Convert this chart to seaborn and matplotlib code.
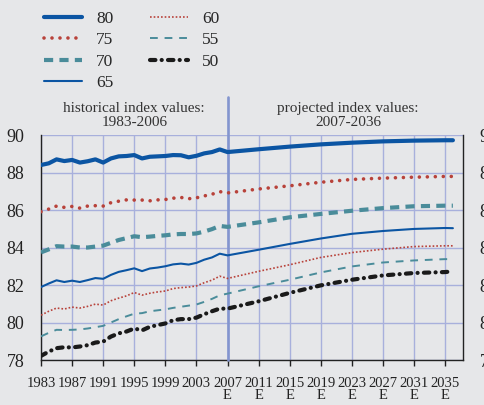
import numpy as np
import pandas as pd
import matplotlib
matplotlib.use('Agg')
import matplotlib.pyplot as plt
import seaborn as sns

# years: every year for the historical part, every 4 years for the projection
years = list(range(1983, 2008)) + [2011, 2015, 2019, 2023, 2027, 2031, 2035, 2036]

idx80 = [88.40, 88.49, 88.70, 88.61, 88.67, 88.53, 88.60, 88.70, 88.53, 88.75, 88.86, 88.88,
         88.93, 88.75, 88.84, 88.86, 88.88, 88.93, 88.92, 88.81, 88.89, 89.02, 89.09, 89.23, 89.09,
         89.24, 89.38, 89.50, 89.59, 89.66, 89.70, 89.72, 89.72]
idx75 = [85.91, 86.05, 86.21, 86.14, 86.19, 86.10, 86.21, 86.23, 86.21, 86.39, 86.47, 86.54,
         86.53, 86.53, 86.49, 86.54, 86.56, 86.63, 86.67, 86.60, 86.65, 86.75, 86.84, 86.98, 86.91,
         87.12, 87.29, 87.48, 87.63, 87.70, 87.75, 87.79, 87.79]
idx70 = [83.74, 83.90, 84.07, 84.05, 84.05, 84.00, 84.00, 84.05, 84.10, 84.25, 84.40, 84.50,
         84.60, 84.55, 84.58, 84.62, 84.65, 84.70, 84.72, 84.72, 84.75, 84.85, 84.98, 85.15, 85.10,
         85.34, 85.61, 85.79, 85.96, 86.10, 86.20, 86.23, 86.23]
idx65 = [81.89, 82.08, 82.25, 82.16, 82.23, 82.16, 82.26, 82.37, 82.33, 82.54, 82.70, 82.79,
         82.89, 82.74, 82.88, 82.93, 83.00, 83.10, 83.14, 83.09, 83.18, 83.35, 83.47, 83.67, 83.58,
         83.88, 84.19, 84.48, 84.73, 84.88, 84.99, 85.04, 85.03]
idx60 = [80.39, 80.60, 80.77, 80.72, 80.82, 80.77, 80.86, 80.98, 80.93, 81.16, 81.30, 81.42,
         81.60, 81.46, 81.56, 81.63, 81.68, 81.81, 81.86, 81.89, 81.95, 82.12, 82.26, 82.47, 82.35,
         82.73, 83.08, 83.47, 83.73, 83.91, 84.05, 84.09, 84.09]
idx55 = [79.26, 79.45, 79.61, 79.60, 79.61, 79.63, 79.68, 79.75, 79.82, 80.00, 80.18, 80.33,
         80.47, 80.50, 80.60, 80.65, 80.70, 80.78, 80.84, 80.90, 80.96, 81.10, 81.26, 81.45, 81.54,
         81.93, 82.28, 82.67, 82.99, 83.20, 83.31, 83.38, 83.38]
idx50 = [78.22, 78.45, 78.63, 78.68, 78.67, 78.72, 78.79, 78.93, 78.98, 79.25, 79.42, 79.52,
         79.68, 79.58, 79.77, 79.86, 79.95, 80.12, 80.18, 80.18, 80.26, 80.44, 80.60, 80.74, 80.74,
         81.13, 81.58, 81.98, 82.28, 82.51, 82.64, 82.69, 82.73]

tick_years = list(range(1983, 2036, 4))
y_ticks = [78, 80, 82, 84, 86, 88, 90]

BG = '#e6e7e9'
BLUE = '#0b55a3'
RED = '#b8423a'
TEAL = '#4a8c9a'
BLACK = '#1a1a1a'

sns.set_theme(style='white', rc={'axes.facecolor': BG, 'figure.facecolor': BG})
plt.rcParams['font.family'] = ['Liberation Serif', 'DejaVu Serif']

df = pd.DataFrame({'Year': years, '80': idx80, '75': idx75, '70': idx70, '65': idx65,
                   '60': idx60, '55': idx55, '50': idx50})

styles = {
    '80': dict(color=BLUE, lw=3.0, ls='-'),
    '75': dict(color=RED, lw=2.6, ls=(0, (0.01, 2.2)), dash_capstyle='round'),
    '70': dict(color=TEAL, lw=3.0, ls=(0, (2.2, 1.5))),
    '65': dict(color=BLUE, lw=1.5, ls='-'),
    '60': dict(color=RED, lw=1.2, ls=(0, (1, 1.2))),
    '55': dict(color=TEAL, lw=1.4, ls=(0, (4, 3.5))),
    '50': dict(color=BLACK, lw=3.0, ls=(0, (1.3, 1.5, 0.02, 1.5)), dash_capstyle='round'),
}

fig = plt.figure(figsize=(4.84, 4.05), dpi=100)
ax = fig.add_axes([41 / 484, 45 / 405, 422 / 484, 225 / 405])

for name, st in styles.items():
    sns.lineplot(data=df, x='Year', y=name, ax=ax, color=st['color'], linewidth=st['lw'],
                 label=name, zorder=4)
    ln = ax.get_lines()[-1]
    ln.set_linestyle(st['ls'])
    if 'dash_capstyle' in st:
        ln.set_dash_capstyle(st['dash_capstyle'])

ax.set_xlim(1983, 2037.3)
ax.set_ylim(78, 90)
ax.set_xticks(tick_years)
ax.set_xticklabels([f'{y}\nE' if y >= 2007 else str(y) for y in tick_years], fontsize=10.5)
for lab in ax.get_xticklabels():
    lab.set_linespacing(0.95)
ax.set_yticks(y_ticks)
ax.set_yticklabels([str(v) for v in y_ticks], fontsize=13)
ax.tick_params(axis='y', left=False, right=False, labelright=True, pad=6, colors='#222222')
ax.tick_params(axis='x', bottom=True, length=4, width=1, color='#222222', pad=8, colors='#222222')
ax.set_xlabel('')
ax.set_ylabel('')
ax.grid(True, color='#a8b0dc', linewidth=1, zorder=1)
ax.set_axisbelow(True)

for side in ['left', 'right', 'bottom']:
    ax.spines[side].set_color('#222222')
    ax.spines[side].set_linewidth(1)
    ax.spines[side].set_visible(True)
ax.spines['top'].set_visible(False)

ax.axvline(2007, ymin=0, ymax=1.17, color='#8395cf', linewidth=1.9, clip_on=False, zorder=3)

ax.text(1995, 1.088, 'historical index values:\n1983-2006', transform=ax.get_xaxis_transform(),
        ha='center', va='center', fontsize=11, color='#333333', linespacing=1.12)
ax.text(2022.5, 1.088, 'projected index values:\n2007-2036', transform=ax.get_xaxis_transform(),
        ha='center', va='center', fontsize=11, color='#333333', linespacing=1.12)

ax.legend(loc='upper left', bbox_to_anchor=(0.091, 0.973), bbox_transform=fig.transFigure,
          ncol=2, frameon=False, fontsize=12.5, handlelength=2.2, handletextpad=0.8,
          columnspacing=2.1, labelspacing=0.3, borderpad=0, borderaxespad=0)

plt.savefig('out.png', dpi=100, facecolor=BG)
